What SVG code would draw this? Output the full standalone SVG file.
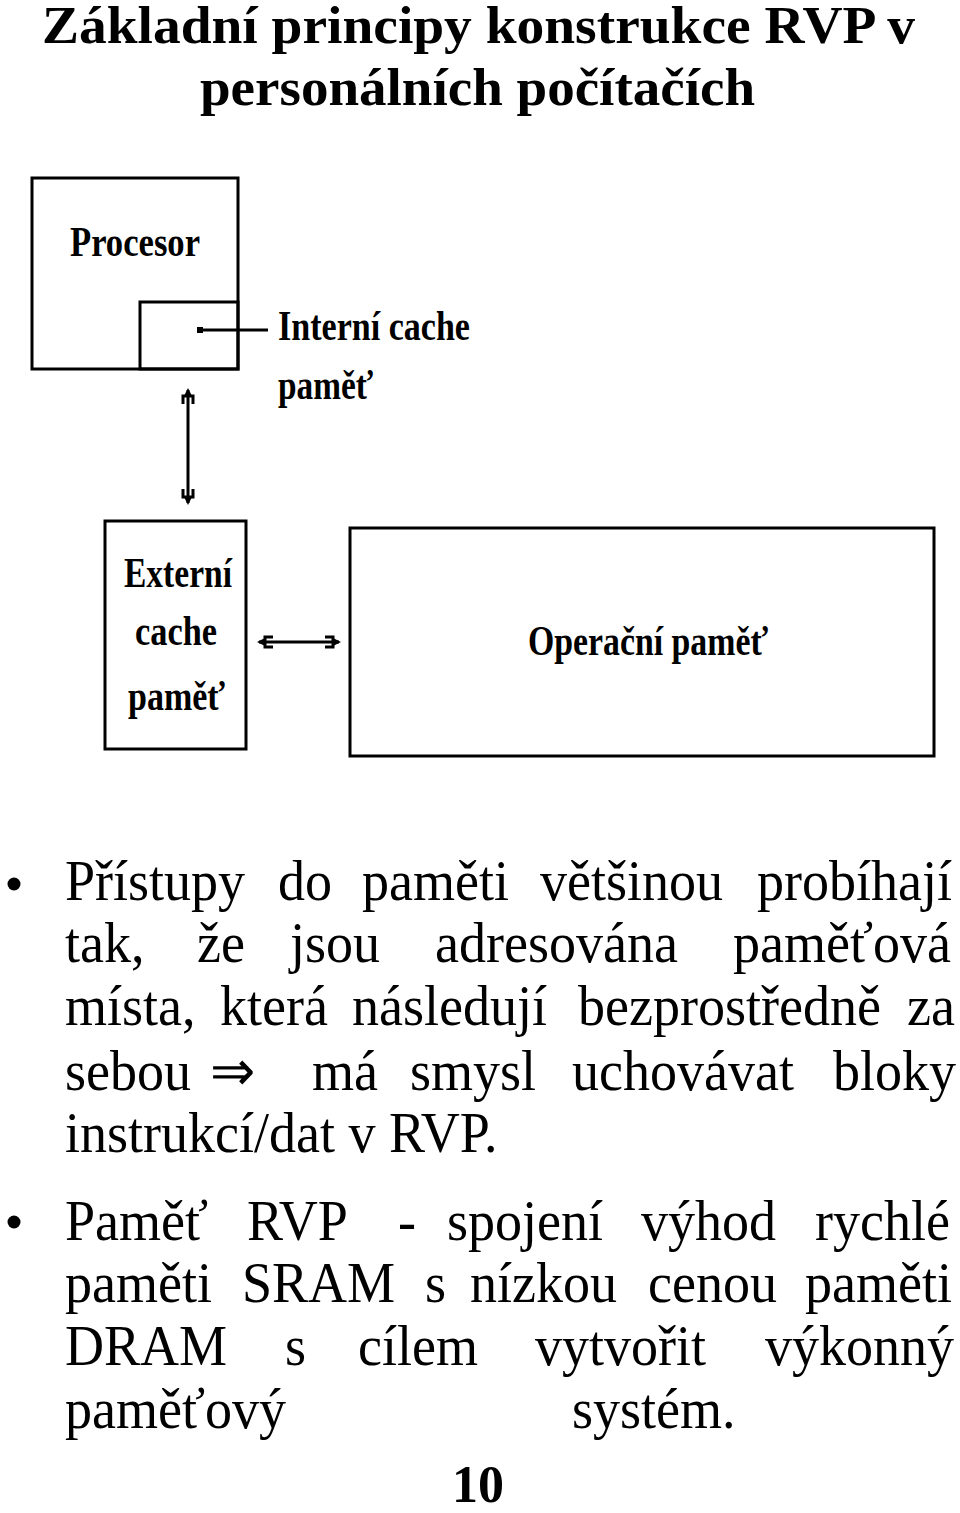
<svg xmlns="http://www.w3.org/2000/svg" width="960" height="1513" viewBox="0 0 960 1513">
<style>
.box{fill:none;stroke:#000;stroke-width:3}
.lbl{font-family:"Liberation Serif","Times New Roman",serif;font-weight:bold;fill:#000}
.title{font-family:"Liberation Serif","Times New Roman",serif;font-weight:bold;font-size:52px;fill:#000}
.body{font-family:"Liberation Serif","Times New Roman",serif;font-size:56px;fill:#000}
.conn{stroke:#000;stroke-width:3;fill:none}
</style>
<defs>
<marker id="ah" markerUnits="userSpaceOnUse" viewBox="-16 -8 19 16" refX="0" refY="0" markerWidth="19" markerHeight="16" orient="auto-start-reverse">
<path d="M2,0 L-7,-4.5 L-7,4.5 Z" fill="#000"/>
<path d="M-14,-5 L-6,-5 L-6,5 L-14,5" fill="none" stroke="#000" stroke-width="3"/>
</marker>
</defs>
<rect width="960" height="1513" fill="#fff"/>
<g id="title">
<text class="title" x="42" y="43" textLength="873" lengthAdjust="spacingAndGlyphs">Základní principy konstrukce RVP v</text>
<text class="title" x="200" y="105" textLength="555" lengthAdjust="spacingAndGlyphs">personálních počítačích</text>
</g>
<g id="procesor">
<rect class="box" x="32" y="178" width="206" height="191"/>
<text class="lbl" x="70" y="256" font-size="42" textLength="130" lengthAdjust="spacingAndGlyphs">Procesor</text>
</g>
<g id="interni-cache">
<rect class="box" x="140" y="302" width="98" height="67"/>
<rect x="197" y="327" width="6" height="6" fill="#000"/>
<line class="conn" x1="200" y1="330" x2="268" y2="330"/>
<text class="lbl" x="278" y="340" font-size="42" textLength="192" lengthAdjust="spacingAndGlyphs">Interní cache</text>
<text class="lbl" x="278" y="399" font-size="42" textLength="95" lengthAdjust="spacingAndGlyphs">paměť</text>
</g>
<g id="externi-cache">
<rect class="box" x="105" y="521" width="141" height="228"/>
<text class="lbl" x="124" y="587" font-size="42" textLength="108" lengthAdjust="spacingAndGlyphs">Externí</text>
<text class="lbl" x="135" y="645" font-size="42" textLength="82" lengthAdjust="spacingAndGlyphs">cache</text>
<text class="lbl" x="128" y="710" font-size="42" textLength="97" lengthAdjust="spacingAndGlyphs">paměť</text>
</g>
<g id="operacni-pamet">
<rect class="box" x="350" y="528" width="584" height="228"/>
<text class="lbl" x="528" y="655" font-size="42" textLength="240" lengthAdjust="spacingAndGlyphs">Operační paměť</text>
</g>
<g id="connectors">
<line class="conn" x1="188" y1="390" x2="188" y2="503" marker-start="url(#ah)" marker-end="url(#ah)"/>
<line class="conn" x1="259" y1="642" x2="339" y2="642" marker-start="url(#ah)" marker-end="url(#ah)"/>
</g>
<g id="text-body">
<circle cx="14" cy="884" r="6.5" fill="#000"/>
<circle cx="14" cy="1222" r="6.5" fill="#000"/>
<g transform="scale(0.965 1)">
<text class="body" y="900"><tspan x="67.36">Přístupy</tspan><tspan x="288.08">do</tspan><tspan x="375.13">paměti</tspan><tspan x="559.59">většinou</tspan><tspan x="784.46">probíhají</tspan></text>
<text class="body" y="962"><tspan x="67.36">tak,</tspan><tspan x="204.15">že</tspan><tspan x="300.52">jsou</tspan><tspan x="450.78">adresována</tspan><tspan x="759.59">paměťová</tspan></text>
<text class="body" y="1025"><tspan x="67.36">místa,</tspan><tspan x="227.98">která</tspan><tspan x="364.77">následují</tspan><tspan x="598.96">bezprostředně</tspan><tspan x="939.9">za</tspan></text>
<text class="body" y="1090"><tspan x="67.36">sebou</tspan><tspan x="217.62">⇒</tspan><tspan x="323.32">má</tspan><tspan x="424.87">smysl</tspan><tspan x="592.75">uchovávat</tspan><tspan x="863.21">bloky</tspan></text>
<text class="body" y="1152"><tspan x="67.36">instrukcí/dat v RVP.</tspan></text>
<text class="body" y="1240"><tspan x="67.36">Paměť</tspan><tspan x="255.96">RVP</tspan><tspan x="412.44">-</tspan><tspan x="463.21">spojení</tspan><tspan x="664.25">výhod</tspan><tspan x="844.56">rychlé</tspan></text>
<text class="body" y="1302"><tspan x="67.36">paměti</tspan><tspan x="250.78">SRAM</tspan><tspan x="440.41">s</tspan><tspan x="487.05">nízkou</tspan><tspan x="671.5">cenou</tspan><tspan x="834.2">paměti</tspan></text>
<text class="body" y="1365"><tspan x="67.36">DRAM</tspan><tspan x="295.34">s</tspan><tspan x="370.98">cílem</tspan><tspan x="554.4">vytvořit</tspan><tspan x="792.75">výkonný</tspan></text>
<text class="body" y="1428"><tspan x="67.36">paměťový</tspan><tspan x="592.75">systém.</tspan></text>
</g>
<text class="title" x="478" y="1502" text-anchor="middle" font-size="48">10</text>
</g>
</svg>
